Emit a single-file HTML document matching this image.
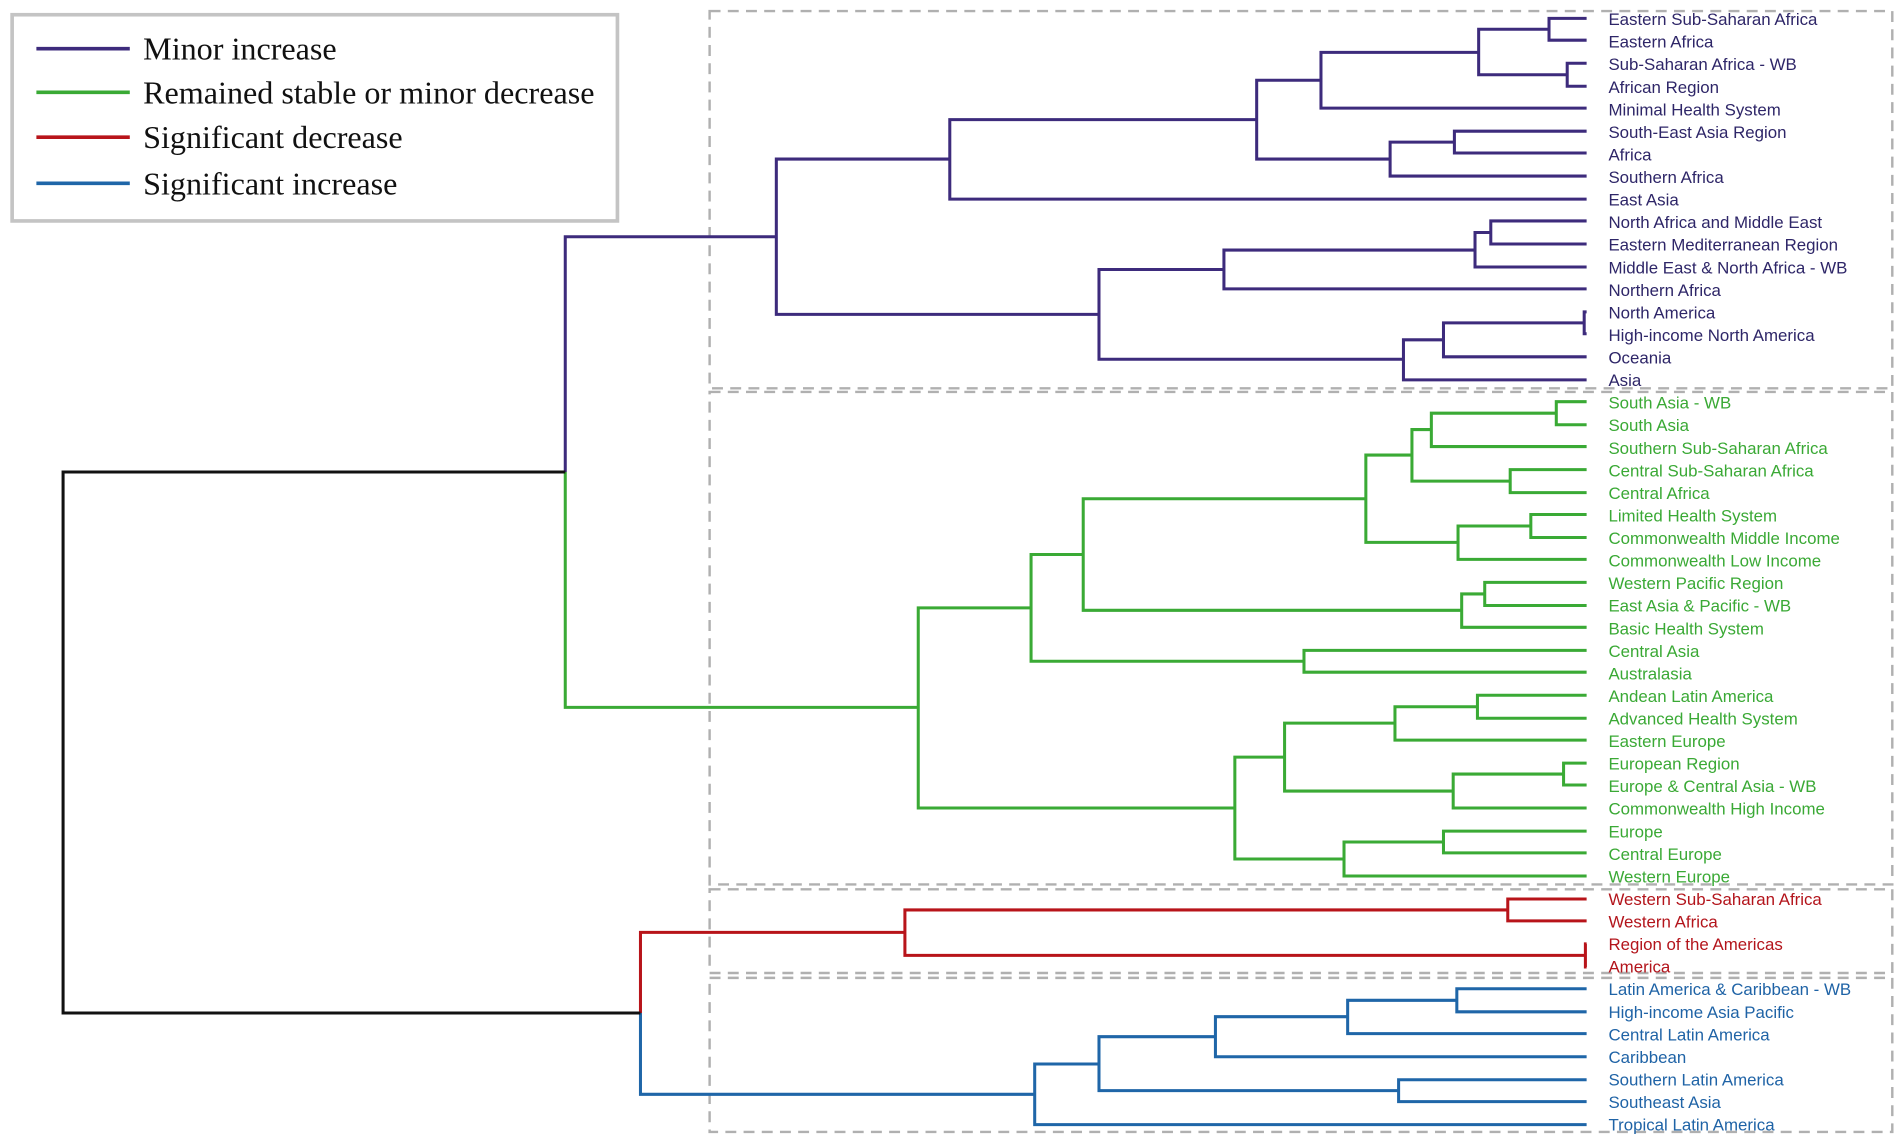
<!DOCTYPE html>
<html><head><meta charset="utf-8"><style>
html,body{margin:0;padding:0;background:#fff;}
svg{display:block;}
.t{font-family:"Liberation Sans",sans-serif;font-size:13.9px;dominant-baseline:central;}
.p{fill:#2e2668}.g{fill:#3aa935}.r{fill:#b3141b}.b{fill:#1f63a6}
.lg{font-family:"Liberation Serif",serif;font-size:26.5px;fill:#111;dominant-baseline:central;}
</style></head><body>
<svg width="1902" height="1143" viewBox="0 0 1568 942" xmlns="http://www.w3.org/2000/svg">
<rect x="0" y="0" width="1568" height="942" fill="#fff"/>
<g fill="none" stroke="#b0b0b0" stroke-width="2" stroke-dasharray="9,6">
<rect x="585" y="9" width="975" height="311"/>
<rect x="585" y="323" width="975" height="406"/>
<rect x="585" y="733" width="975" height="69"/>
<rect x="585" y="806" width="975" height="127"/>
</g>
<g fill="none" stroke-width="2.5">
<path stroke="#3d2b7c" d="M1308 15H1277V33H1308M1308 52H1292V71H1308M1277 24H1219V61.5H1292M1219 43H1089V89H1308M1308 108H1199V126H1308M1199 117H1146V145H1308M1089 66H1036V131H1146M1036 98.5H783V164H1308M1308 182H1229V201H1308M1229 191.5H1216V220H1308M1216 206H1009V238H1308M1308 257H1306V275H1308M1306 266H1190V294H1308M1190 280H1157V313H1308M1009 222H906V296H1157M783 131H640V259H906M640 195H466V389"/>
<path stroke="#3aaa35" d="M466 389V583H757M1308 331H1283V350H1308M1283 340.5H1180V368H1308M1308 387H1245V406H1308M1180 354H1164V396.5H1245M1308 424H1262V443H1308M1262 433.5H1202V461H1308M1164 375H1126V447H1202M1308 480H1224V499H1308M1224 489.5H1205V517H1308M1126 411H893V503H1205M1308 536H1075V554H1308M893 457H850V545H1075M1308 573H1218V592H1308M1218 582.5H1150V610H1308M1308 629H1289V647H1308M1289 638H1198V666H1308M1150 596H1059V652H1198M1308 685H1190V703H1308M1190 694H1108V722H1308M1059 624H1018V708H1108M850 501H757V666H1018"/>
<path stroke="#b8141a" d="M1308 741H1243V759H1308M1308 778H1307V797H1308M1243 750H746V787.5H1307M746 768.5H528V835"/>
<path stroke="#1f66a8" d="M528 835V902H853M1308 815H1201V834H1308M1201 824.5H1111V852H1308M1111 838H1002V871H1308M1308 890H1153V908H1308M1002 854.5H906V899H1153M906 877H853V927H1308"/>
<path stroke="#111" d="M466 389H52V835H528"/>
</g>
<g class="t">
<text x="1326" y="16" class="p">Eastern Sub-Saharan Africa</text>
<text x="1326" y="34.6" class="p">Eastern Africa</text>
<text x="1326" y="53.2" class="p">Sub-Saharan Africa - WB</text>
<text x="1326" y="71.8" class="p">African Region</text>
<text x="1326" y="90.4" class="p">Minimal Health System</text>
<text x="1326" y="109" class="p">South-East Asia Region</text>
<text x="1326" y="127.6" class="p">Africa</text>
<text x="1326" y="146.2" class="p">Southern Africa</text>
<text x="1326" y="164.8" class="p">East Asia</text>
<text x="1326" y="183.4" class="p">North Africa and Middle East</text>
<text x="1326" y="202" class="p">Eastern Mediterranean Region</text>
<text x="1326" y="220.6" class="p">Middle East &amp; North Africa - WB</text>
<text x="1326" y="239.2" class="p">Northern Africa</text>
<text x="1326" y="257.8" class="p">North America</text>
<text x="1326" y="276.4" class="p">High-income North America</text>
<text x="1326" y="295" class="p">Oceania</text>
<text x="1326" y="313.6" class="p">Asia</text>
<text x="1326" y="332.2" class="g">South Asia - WB</text>
<text x="1326" y="350.8" class="g">South Asia</text>
<text x="1326" y="369.4" class="g">Southern Sub-Saharan Africa</text>
<text x="1326" y="388" class="g">Central Sub-Saharan Africa</text>
<text x="1326" y="406.6" class="g">Central Africa</text>
<text x="1326" y="425.2" class="g">Limited Health System</text>
<text x="1326" y="443.8" class="g">Commonwealth Middle Income</text>
<text x="1326" y="462.4" class="g">Commonwealth Low Income</text>
<text x="1326" y="481" class="g">Western Pacific Region</text>
<text x="1326" y="499.6" class="g">East Asia &amp; Pacific - WB</text>
<text x="1326" y="518.2" class="g">Basic Health System</text>
<text x="1326" y="536.8" class="g">Central Asia</text>
<text x="1326" y="555.4" class="g">Australasia</text>
<text x="1326" y="574" class="g">Andean Latin America</text>
<text x="1326" y="592.6" class="g">Advanced Health System</text>
<text x="1326" y="611.2" class="g">Eastern Europe</text>
<text x="1326" y="629.8" class="g">European Region</text>
<text x="1326" y="648.4" class="g">Europe &amp; Central Asia - WB</text>
<text x="1326" y="667" class="g">Commonwealth High Income</text>
<text x="1326" y="685.6" class="g">Europe</text>
<text x="1326" y="704.2" class="g">Central Europe</text>
<text x="1326" y="722.8" class="g">Western Europe</text>
<text x="1326" y="741.4" class="r">Western Sub-Saharan Africa</text>
<text x="1326" y="760" class="r">Western Africa</text>
<text x="1326" y="778.6" class="r">Region of the Americas</text>
<text x="1326" y="797.2" class="r">America</text>
<text x="1326" y="815.8" class="b">Latin America &amp; Caribbean - WB</text>
<text x="1326" y="834.4" class="b">High-income Asia Pacific</text>
<text x="1326" y="853" class="b">Central Latin America</text>
<text x="1326" y="871.6" class="b">Caribbean</text>
<text x="1326" y="890.2" class="b">Southern Latin America</text>
<text x="1326" y="908.8" class="b">Southeast Asia</text>
<text x="1326" y="927.4" class="b">Tropical Latin America</text>
</g>
<rect x="10" y="12" width="499" height="170" fill="#fff" stroke="#c4c4c4" stroke-width="3"/>
<g stroke-width="3">
<line x1="30" y1="40" x2="107" y2="40" stroke="#3d2b7c"/>
<line x1="30" y1="76" x2="107" y2="76" stroke="#3aaa35"/>
<line x1="30" y1="113" x2="107" y2="113" stroke="#b8141a"/>
<line x1="30" y1="151" x2="107" y2="151" stroke="#1f66a8"/>
</g>
<text x="118" y="40" class="lg">Minor increase</text>
<text x="118" y="76" class="lg">Remained stable or minor decrease</text>
<text x="118" y="113" class="lg">Significant decrease</text>
<text x="118" y="151" class="lg">Significant increase</text>
</svg>
</body></html>
